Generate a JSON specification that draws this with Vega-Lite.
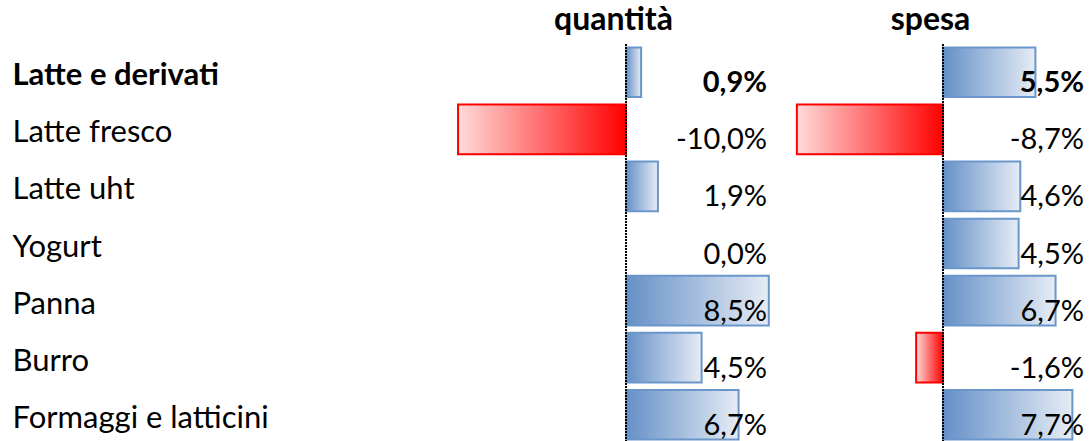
{
  "$schema": "https://vega.github.io/schema/vega-lite/v6.json",
  "padding": {"top": 4, "left": 0, "right": 0, "bottom": 0},
  "background": "white",
  "spacing": 0,
  "config": {
    "view": {"stroke": null},
    "font": "Lato",
    "locale": {"number": {"decimal": ",", "thousands": ".", "grouping": [3], "currency": ["", "%"], "minus": "-"}},
    "title": {"fontSize": 32, "fontWeight": "bold", "color": "black", "font": "Lato", "anchor": "middle", "offset": 6}
  },
  "datasets": {
    "d": [
      {"cat": "Latte e derivati", "q": 0.9, "s": 5.5},
      {"cat": "Latte fresco", "q": -10.0, "s": -8.7},
      {"cat": "Latte uht", "q": 1.9, "s": 4.6},
      {"cat": "Yogurt", "q": 0.0, "s": 4.5},
      {"cat": "Panna", "q": 8.5, "s": 6.7},
      {"cat": "Burro", "q": 4.5, "s": -1.6},
      {"cat": "Formaggi e latticini", "q": 6.7, "s": 7.7}
    ]
  },
  "hconcat": [
    {
      "width": 317,
      "height": 399,
      "title": "quantità",
      "data": {"name": "d"},
      "layer": [
        {
          "transform": [{"filter": "datum.q > 0"}],
          "mark": {"type": "bar", "stroke": "#6b96cb", "strokeWidth": 2,
            "fill": {"gradient": "linear", "x1": 0, "x2": 1, "y1": 0, "y2": 0,
              "stops": [{"offset": 0, "color": "#6590c7"}, {"offset": 1, "color": "#e6ecf5"}]}},
          "encoding": {
            "y": {"field": "cat", "type": "nominal", "sort": null,
              "scale": {"domain": ["Latte e derivati", "Latte fresco", "Latte uht", "Yogurt", "Panna", "Burro", "Formaggi e latticini"], "paddingInner": 0.13, "paddingOuter": 0.06},
              "axis": {"title": null, "domain": false, "ticks": false, "labelAlign": "left", "labelPadding": 443,
                "labelFontSize": 31, "labelColor": "black", "labelFont": "Lato", "labelLimit": 440, "labelOffset": 4,
                "minExtent": 455, "maxExtent": 455,
                "labelFontWeight": {"condition": {"test": "datum.value === 'Latte e derivati'", "value": "bold"}, "value": "normal"}}},
            "x": {"field": "q", "type": "quantitative", "scale": {"domain": [-10.18, 8.69], "nice": false, "zero": false}, "axis": null},
            "x2": {"datum": 0}
          }
        },
        {
          "transform": [{"filter": "datum.q < 0"}],
          "mark": {"type": "bar", "stroke": "#ff0000", "strokeWidth": 2,
            "fill": {"gradient": "linear", "x1": 0, "x2": 1, "y1": 0, "y2": 0,
              "stops": [{"offset": 0, "color": "#ffdada"}, {"offset": 1, "color": "#ff0000"}]}},
          "encoding": {
            "y": {"field": "cat", "type": "nominal", "sort": null},
            "x": {"field": "q", "type": "quantitative"},
            "x2": {"datum": 0}
          }
        },
        {
          "data": {"values": [{}]},
          "mark": {"type": "rule", "color": "black", "strokeWidth": 2, "strokeDash": [2, 1]},
          "encoding": {"x": {"datum": 0}}
        },
        {
          "transform": [{"filter": "datum.cat !== 'Latte e derivati'"}],
          "mark": {"type": "text", "align": "right", "baseline": "alphabetic", "dx": -5, "dy": 20, "fontSize": 29, "color": "black"},
          "encoding": {
            "y": {"field": "cat", "type": "nominal", "sort": null},
            "x": {"datum": 8.69},
            "text": {"field": "q", "type": "quantitative", "format": "$.1f"}
          }
        },
        {
          "transform": [{"filter": "datum.cat === 'Latte e derivati'"}],
          "mark": {"type": "text", "align": "right", "baseline": "alphabetic", "dx": -5, "dy": 20, "fontSize": 29, "fontWeight": "bold", "color": "black"},
          "encoding": {
            "y": {"field": "cat", "type": "nominal", "sort": null},
            "x": {"datum": 8.69},
            "text": {"field": "q", "type": "quantitative", "format": "$.1f"}
          }
        }
      ]
    },
    {
      "width": 317,
      "height": 399,
      "title": "spesa",
      "data": {"name": "d"},
      "layer": [
        {
          "transform": [{"filter": "datum.s > 0"}],
          "mark": {"type": "bar", "stroke": "#6b96cb", "strokeWidth": 2,
            "fill": {"gradient": "linear", "x1": 0, "x2": 1, "y1": 0, "y2": 0,
              "stops": [{"offset": 0, "color": "#6590c7"}, {"offset": 1, "color": "#e6ecf5"}]}},
          "encoding": {
            "y": {"field": "cat", "type": "nominal", "sort": null,
              "scale": {"domain": ["Latte e derivati", "Latte fresco", "Latte uht", "Yogurt", "Panna", "Burro", "Formaggi e latticini"], "paddingInner": 0.13, "paddingOuter": 0.06}, "axis": null},
            "x": {"field": "s", "type": "quantitative", "scale": {"domain": [-10.18, 8.69], "nice": false, "zero": false}, "axis": null},
            "x2": {"datum": 0}
          }
        },
        {
          "transform": [{"filter": "datum.s < 0"}],
          "mark": {"type": "bar", "stroke": "#ff0000", "strokeWidth": 2,
            "fill": {"gradient": "linear", "x1": 0, "x2": 1, "y1": 0, "y2": 0,
              "stops": [{"offset": 0, "color": "#ffdada"}, {"offset": 1, "color": "#ff0000"}]}},
          "encoding": {
            "y": {"field": "cat", "type": "nominal", "sort": null, "axis": null},
            "x": {"field": "s", "type": "quantitative"},
            "x2": {"datum": 0}
          }
        },
        {
          "data": {"values": [{}]},
          "mark": {"type": "rule", "color": "black", "strokeWidth": 2, "strokeDash": [2, 1]},
          "encoding": {"x": {"datum": 0}}
        },
        {
          "transform": [{"filter": "datum.cat !== 'Latte e derivati'"}],
          "mark": {"type": "text", "align": "right", "baseline": "alphabetic", "dx": -5, "dy": 20, "fontSize": 29, "color": "black"},
          "encoding": {
            "y": {"field": "cat", "type": "nominal", "sort": null, "axis": null},
            "x": {"datum": 8.69},
            "text": {"field": "s", "type": "quantitative", "format": "$.1f"}
          }
        },
        {
          "transform": [{"filter": "datum.cat === 'Latte e derivati'"}],
          "mark": {"type": "text", "align": "right", "baseline": "alphabetic", "dx": -5, "dy": 20, "fontSize": 29, "fontWeight": "bold", "color": "black"},
          "encoding": {
            "y": {"field": "cat", "type": "nominal", "sort": null, "axis": null},
            "x": {"datum": 8.69},
            "text": {"field": "s", "type": "quantitative", "format": "$.1f"}
          }
        }
      ]
    }
  ]
}
